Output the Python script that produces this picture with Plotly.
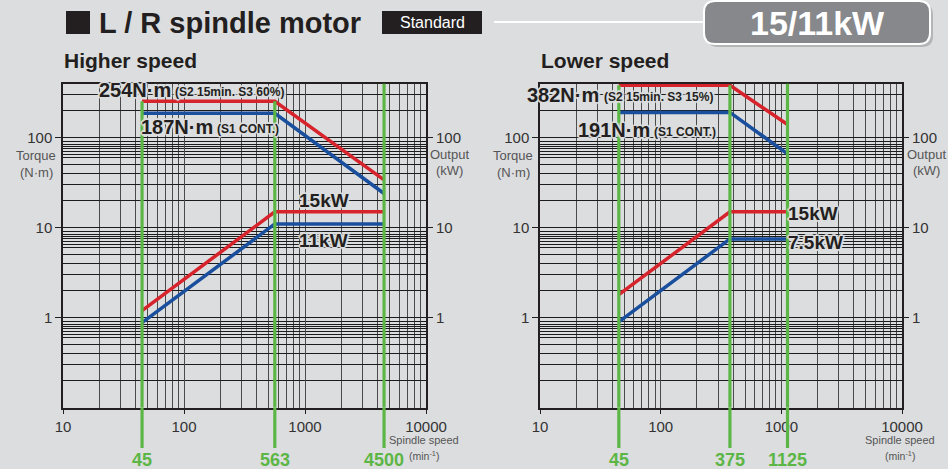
import numpy as np
import plotly.graph_objects as go

# ---------------- data ----------------
# Higher speed winding
hs_speed = [45, 563, 4500]
hs_torque_s2 = [254, 254, 34]
hs_torque_s1 = [187, 187, 24]
hs_power_s2 = [1.2, 15, 15]
hs_power_s1 = [0.88, 11, 11]
hs_marks = [45, 563, 4500]

# Lower speed winding
ls_speed = [45, 375, 1125]
ls_torque_s2 = [382, 382, 140]
ls_torque_s1 = [191, 191, 66]
ls_power_s2 = [1.8, 15, 15]
ls_power_s1 = [0.9, 7.5, 7.5]
ls_marks = [45, 375, 1125]

x_ticks = [10, 100, 1000, 10000]
x_ticktext = ["10", "100", "1000", "10000"]
y_ticks = [1, 10, 100]
y_ticktext = ["1", "10", "100"]
y_top = 400
y_bottom = 0.1

# ---------------- styling ----------------
W, H = 948, 469
BG = "#dcdddf"
RED = "#d7242c"
BLUE = "#1a4f9e"
GREEN = "#5cb646"
DARK = "#231f20"
GRID_H = "#1c1c1c"
GRID_V = "#4a4a4a"
FONT = "Liberation Sans, Arial, sans-serif"
NARROW = "Liberation Sans Narrow, Liberation Sans, Arial, sans-serif"


def px(x):
    return x / W


def py(y):
    return 1 - y / H


HALO = ", ".join(
    f"{dx}px {dy}px 1px {BG}"
    for dx, dy in [(2, 0), (-2, 0), (0, 2), (0, -2), (1, 1), (-1, -1), (1, -1), (-1, 1)]
)

x_minor = [m * 10 ** e for e in range(1, 4) for m in range(2, 10)]
y_minor = [m * 10 ** e for e in range(-1, 3)
           for m in [2, 3, 4, 5, 6, 6.5, 7, 7.5, 8, 8.5, 9]]
y_minor = [v for v in y_minor if v < y_top]

y_dom = [py(407.7), py(83.5)]
x_dom_left = [px(63), px(426)]
x_dom_right = [px(540), px(902)]

fig = go.Figure()


def add_panel(xa, ya_t, ya_p, speed, t2, t1, p2, p1):
    xs = "x" if xa == 1 else f"x{xa}"
    yt = "y" if ya_t == 1 else f"y{ya_t}"
    yp = f"y{ya_p}"
    for y, c, axis in [(t2, RED, yt), (t1, BLUE, yt), (p2, RED, yp), (p1, BLUE, yp)]:
        fig.add_trace(go.Scatter(
            x=speed, y=y, mode="lines", xaxis=xs, yaxis=axis,
            line=dict(color=c, width=3.5), hoverinfo="skip", showlegend=False,
        ))


add_panel(1, 1, 2, hs_speed, hs_torque_s2, hs_torque_s1, hs_power_s2, hs_power_s1)
add_panel(2, 3, 4, ls_speed, ls_torque_s2, ls_torque_s1, ls_power_s2, ls_power_s1)

yrange = [np.log10(y_bottom), np.log10(y_top)]
xrange = [np.log10(x_ticks[0]), np.log10(x_ticks[-1])]


def x_axis(dom, anchor):
    return dict(
        type="log", range=xrange, domain=dom, anchor=anchor, automargin=False,
        tickvals=x_ticks, ticktext=x_ticktext, ticks="outside", ticklen=5,
        tickcolor=DARK, tickfont=dict(family=FONT, size=15, color="#333"),
        showgrid=True, gridcolor=GRID_V, gridwidth=1.2,
        minor=dict(tickvals=x_minor, showgrid=True, gridcolor=GRID_V,
                   gridwidth=1.2, ticks=""),
        showline=True, linecolor=DARK, linewidth=1.5, mirror=True,
        zeroline=False, fixedrange=True,
    )


def y_axis_left(anchor):
    return dict(
        type="log", range=yrange, domain=y_dom, anchor=anchor, side="left",
        automargin=False,
        tickvals=y_ticks, ticktext=y_ticktext, ticks="outside", ticklen=6,
        tickcolor=DARK, tickfont=dict(family=FONT, size=15, color="#333"),
        showgrid=True, gridcolor=GRID_H, gridwidth=1,
        minor=dict(tickvals=y_minor, showgrid=True, gridcolor=GRID_H,
                   gridwidth=1, ticks=""),
        showline=True, linecolor=DARK, linewidth=1.5, mirror=True,
        zeroline=False, fixedrange=True,
    )


def y_axis_right(anchor, over):
    return dict(
        type="log", range=yrange, anchor=anchor, overlaying=over, side="right",
        automargin=False,
        tickvals=y_ticks, ticktext=y_ticktext, ticks="outside", ticklen=6,
        tickcolor=DARK, tickfont=dict(family=FONT, size=15, color="#333"),
        showgrid=False, showline=False, zeroline=False, fixedrange=True,
    )


fig.update_layout(
    width=W, height=H, autosize=False,
    margin=dict(l=0, r=0, t=0, b=0, pad=0),
    paper_bgcolor=BG, plot_bgcolor=BG, showlegend=False,
    xaxis=x_axis(x_dom_left, "y"),
    xaxis2=x_axis(x_dom_right, "y3"),
    yaxis=y_axis_left("x"),
    yaxis2=y_axis_right("x", "y"),
    yaxis3=y_axis_left("x2"),
    yaxis4=y_axis_right("x2", "y3"),
)

shapes = []
annotations = []

# rated-speed marker lines and their labels
for xs, marks, tops in [("x", hs_marks, [hs_torque_s2[0], hs_torque_s2[1], y_top]),
                        ("x2", ls_marks, [ls_torque_s2[0], ls_torque_s2[1], y_top])]:
    ys = "y" if xs == "x" else "y3"
    for m, top in zip(marks, tops):
        shapes.append(dict(type="line", xref=xs, yref=ys, x0=m, x1=m,
                           y0=y_bottom, y1=top, line=dict(color=GREEN, width=3.2)))
        shapes.append(dict(type="line", xref=xs, yref="paper", x0=m, x1=m,
                           y0=y_dom[0], y1=py(448), line=dict(color=GREEN, width=3.2)))
        annotations.append(dict(xref=xs, yref="paper", x=np.log10(m), y=py(460),
                                text=f"<b>{m}</b>", showarrow=False,
                                font=dict(family=FONT, size=18, color=GREEN),
                                xanchor="center", yanchor="middle"))

# header: black square, title, badge, rule and rating box
shapes.append(dict(type="rect", xref="paper", yref="paper", x0=px(66), x1=px(90),
                   y0=py(34), y1=py(11), fillcolor=DARK, line=dict(width=0)))
shapes.append(dict(type="rect", xref="paper", yref="paper", x0=px(382), x1=px(482),
                   y0=py(34), y1=py(11), fillcolor=DARK, line=dict(width=0)))
shapes.append(dict(type="line", xref="paper", yref="paper", x0=px(494), x1=px(706),
                   y0=py(22), y1=py(22), line=dict(color="white", width=2)))


def rounded_rect(x0, y0, x1, y1, r):
    pts = [
        f"M {px(x0 + r)} {py(y0)}",
        f"L {px(x1 - r)} {py(y0)}",
        f"Q {px(x1)} {py(y0)} {px(x1)} {py(y0 + r)}",
        f"L {px(x1)} {py(y1 - r)}",
        f"Q {px(x1)} {py(y1)} {px(x1 - r)} {py(y1)}",
        f"L {px(x0 + r)} {py(y1)}",
        f"Q {px(x0)} {py(y1)} {px(x0)} {py(y1 - r)}",
        f"L {px(x0)} {py(y0 + r)}",
        f"Q {px(x0)} {py(y0)} {px(x0 + r)} {py(y0)}",
        "Z",
    ]
    return " ".join(pts)


shapes.append(dict(type="path", xref="paper", yref="paper",
                   path=rounded_rect(707, 4, 933, 47, 11),
                   fillcolor="rgba(0,0,0,0.18)", line=dict(width=0)))
shapes.append(dict(type="path", xref="paper", yref="paper",
                   path=rounded_rect(704, 1, 930, 44, 11),
                   fillcolor="#86888b", line=dict(color="white", width=2)))

annotations += [
    dict(x=px(97), y=py(23), text="<b>L / R spindle motor</b>",
         font=dict(family=FONT, size=29, color=DARK)),
    dict(x=px(432), y=py(22.5), text="Standard", xanchor="center",
         font=dict(family=FONT, size=16, color="white")),
    dict(x=px(817), y=py(23.5), text="<b>15/11kW</b>", xanchor="center",
         font=dict(family=FONT, size=34, color="white")),
    dict(x=px(62), y=py(60), text="<b>Higher speed</b>",
         font=dict(family=FONT, size=21, color=DARK)),
    dict(x=px(539), y=py(60), text="<b>Lower speed</b>",
         font=dict(family=FONT, size=21, color=DARK)),
]

# axis captions
for xc_t, xc_o, xc_s in [(36, 449, 424), (513, 926, 900)]:
    annotations += [
        dict(x=px(xc_t), y=py(156), text="Torque", xanchor="center",
             font=dict(family=FONT, size=13, color="#555")),
        dict(x=px(xc_t), y=py(172), text="(N·m)", xanchor="center",
             font=dict(family=FONT, size=13, color="#555")),
        dict(x=px(xc_o), y=py(154), text="Output", xanchor="center",
             font=dict(family=FONT, size=13, color="#555")),
        dict(x=px(xc_o), y=py(170), text="(kW)", xanchor="center",
             font=dict(family=FONT, size=13, color="#555")),
        dict(x=px(xc_s), y=py(440), text="Spindle speed", xanchor="center",
             font=dict(family=NARROW, size=11, color="#555")),
        dict(x=px(xc_s), y=py(455), text="(min<sup>-1</sup>)", xanchor="center",
             font=dict(family=NARROW, size=10.5, color="#555")),
    ]

# curve labels
big = dict(family=FONT, size=20, color=DARK, shadow=HALO)
small = dict(family=FONT, size=12, color=DARK, shadow=HALO)
mid = dict(family=FONT, size=19, color=DARK, shadow=HALO)
annotations += [
    dict(x=px(97), y=py(90), text=f"<b>{hs_torque_s2[0]}N·m</b>", font=big),
    dict(x=px(173), y=py(92), text="<b>(S2 15min. S3 60%)</b>", font=small),
    dict(x=px(139), y=py(127), text=f"<b>{hs_torque_s1[0]}N·m</b>", font=big),
    dict(x=px(215), y=py(129), text="<b>(S1 CONT.)</b>", font=small),
    dict(x=px(297), y=py(200), text=f"<b>{hs_power_s2[-1]}kW</b>", font=mid),
    dict(x=px(297), y=py(240), text=f"<b>{hs_power_s1[-1]}kW</b>", font=mid),
    dict(x=px(525), y=py(95), text=f"<b>{ls_torque_s2[0]}N·m</b>", font=big),
    dict(x=px(602), y=py(97), text="<b>(S2 15min. S3 15%)</b>", font=small),
    dict(x=px(576), y=py(130), text=f"<b>{ls_torque_s1[0]}N·m</b>", font=big),
    dict(x=px(652), y=py(132), text="<b>(S1 CONT.)</b>", font=small),
    dict(x=px(786), y=py(214), text=f"<b>{ls_power_s2[-1]}kW</b>", font=mid),
    dict(x=px(786), y=py(242), text=f"<b>{ls_power_s1[-1]}kW</b>", font=mid),
]

for a in annotations:
    a.setdefault("xref", "paper")
    a.setdefault("yref", "paper")
    a.setdefault("xanchor", "left")
    a.setdefault("yanchor", "middle")
    a.setdefault("showarrow", False)

fig.update_layout(shapes=shapes, annotations=annotations)
fig.write_html("out.html")
